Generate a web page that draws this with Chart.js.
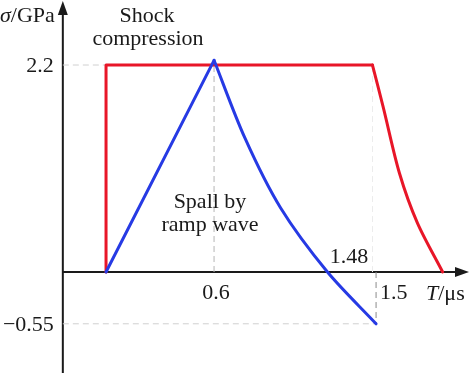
<!DOCTYPE html>
<html>
<head>
<meta charset="utf-8">
<script src="https://cdn.jsdelivr.net/npm/chart.js@4"></script>
<style>
  body { margin: 0; background: #fff; }
  #wrap { width: 474px; height: 373px; }
</style>
</head>
<body>
<div id="wrap"><canvas id="chart"></canvas></div>
<script>
// Shock compression (red) - rise, plateau, then release
const shockRiseT = [0, 0, 1.48];
const shockRiseS = [0, 2.2, 2.2];
const shockFallT = [1.48, 1.54, 1.63, 1.73, 1.87];
const shockFallS = [2.2, 1.75, 1.05, 0.52, 0];

// Spall by ramp wave (blue)
const rampRiseT = [0, 0.6];
const rampRiseS = [0, 2.25];
const rampFallT = [0.6, 0.77, 0.97, 1.23, 1.5];
const rampFallS = [2.25, 1.43, 0.68, 0, -0.55];

// tick labels
const xTicks = [0.6, 1.5];
const yTicks = [2.2, -0.55];
const yAxisAt = -0.24;  // where the vertical axis crosses

const pts = (xs, ys) => xs.map((v, i) => ({ x: v, y: ys[i] }));

const RED = 'rgb(232, 22, 40)';
const BLUE = 'rgb(38, 58, 228)';
const SERIF = '"Liberation Serif", "DejaVu Serif", serif';

const lineStyle = (color, tension) => ({
    borderColor: color,
    borderWidth: 3,
    pointRadius: 0,
    fill: false,
    tension: tension,
    borderCapStyle: 'round',
    borderJoinStyle: 'round',
});

const guide = (data, color) => ({
    data: data,
    borderColor: color,
    borderWidth: 1,
    borderDash: [6, 4],
    pointRadius: 0,
    fill: false,
});

// axes, arrows and labels
const axesPlugin = {
    id: 'axes',
    beforeDatasetsDraw(chart) {
        const { ctx, scales: { x, y } } = chart;
        const x0 = x.getPixelForValue(yAxisAt);
        const y0 = y.getPixelForValue(0);
        ctx.save();
        ctx.strokeStyle = '#1a1a1a';
        ctx.fillStyle = '#1a1a1a';
        ctx.lineWidth = 2;
        ctx.beginPath();
        ctx.moveTo(x0, chart.height);
        ctx.lineTo(x0, 10);
        ctx.moveTo(x0, y0);
        ctx.lineTo(chart.width - 12, y0);
        ctx.stroke();
        // arrow heads
        ctx.beginPath();
        ctx.moveTo(x0, 1);
        ctx.lineTo(x0 - 5, 15);
        ctx.lineTo(x0 + 5, 15);
        ctx.closePath();
        ctx.fill();
        const xe = chart.width - 5;
        ctx.beginPath();
        ctx.moveTo(xe, y0);
        ctx.lineTo(xe - 14, y0 - 5);
        ctx.lineTo(xe - 14, y0 + 5);
        ctx.closePath();
        ctx.fill();
        ctx.restore();
    },
    afterDatasetsDraw(chart) {
        const { ctx, scales: { x, y } } = chart;
        const x0 = x.getPixelForValue(yAxisAt);
        const y0 = y.getPixelForValue(0);
        ctx.save();
        ctx.fillStyle = '#1a1a1a';
        ctx.textBaseline = 'middle';
        ctx.font = '22px ' + SERIF;

        // y tick labels
        ctx.textAlign = 'right';
        yTicks.forEach(v => {
            const s = v < 0 ? '\u2212' + Math.abs(v) : String(v);
            ctx.fillText(s, x0 - 9, y.getPixelForValue(v) + 1);
        });
        // x tick labels
        ctx.textAlign = 'center';
        ctx.fillText(String(xTicks[0]), x.getPixelForValue(xTicks[0]) + 2, y0 + 21);
        ctx.textAlign = 'left';
        ctx.fillText(String(xTicks[1]), x.getPixelForValue(xTicks[1]) + 4, y0 + 21);

        // axis titles
        ctx.textBaseline = 'alphabetic';
        ctx.textAlign = 'left';
        ctx.font = 'italic 22px ' + SERIF;
        ctx.fillText('T', 426, y0 + 28);
        let w = ctx.measureText('T').width;
        ctx.font = '22px ' + SERIF;
        ctx.fillText('/\u03bcs', 426 + w, y0 + 28);

        ctx.font = 'italic 22px ' + SERIF;
        ctx.fillText('\u03c3', 0, 22);
        w = ctx.measureText('\u03c3').width;
        ctx.font = '22px ' + SERIF;
        ctx.fillText('/GPa', w, 22);

        // annotations
        ctx.textAlign = 'center';
        ctx.fillText('Shock', 147, 22);
        ctx.fillText('compression', 148, 45);
        ctx.fillText('Spall by', 210, 208);
        ctx.fillText('ramp wave', 210, 231);
        ctx.fillText('1.48', x.getPixelForValue(1.35), y0 - 9);
        ctx.restore();
    }
};

new Chart(document.getElementById('chart'), {
    type: 'line',
    data: {
        datasets: [
            { data: pts(rampRiseT, rampRiseS), ...lineStyle(BLUE, 0) },
            { data: pts(rampFallT, rampFallS), ...lineStyle(BLUE, 0.3) },
            { data: pts(shockRiseT, shockRiseS), ...lineStyle(RED, 0) },
            { data: pts(shockFallT, shockFallS), ...lineStyle(RED, 0.3) },
            guide([{ x: yAxisAt, y: 2.2 }, { x: 1.48, y: 2.2 }], '#d0d0d0'),
            guide([{ x: yAxisAt, y: -0.55 }, { x: 1.5, y: -0.55 }], '#d0d0d0'),
            guide([{ x: 0.6, y: 0 }, { x: 0.6, y: 2.2 }], '#b4b4b4'),
            guide([{ x: 1.48, y: 0 }, { x: 1.48, y: 2.2 }], '#ececec'),
            guide([{ x: 1.5, y: 0 }, { x: 1.5, y: -0.55 }], '#8a8a8a'),
        ]
    },
    options: {
        responsive: true,
        maintainAspectRatio: false,
        animation: false,
        layout: { padding: 0 },
        plugins: {
            legend: { display: false },
            tooltip: { enabled: false },
        },
        scales: {
            x: { type: 'linear', min: -0.589, max: 2.044, display: false },
            y: { type: 'linear', min: -1.073, max: 2.891, display: false },
        },
    },
    plugins: [axesPlugin],
});
</script>
</body>
</html>
